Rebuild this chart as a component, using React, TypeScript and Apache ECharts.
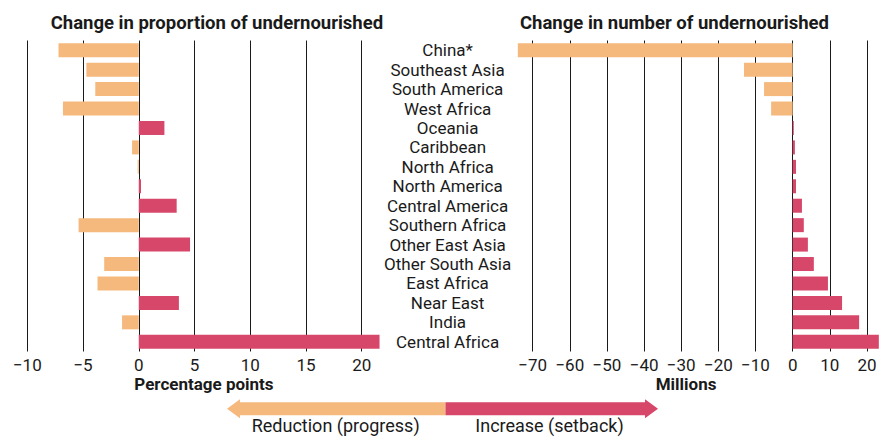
import React, { useEffect, useRef } from 'react';
import * as echarts from 'echarts';

const regions = [
  'China*', 'Southeast Asia', 'South America', 'West Africa', 'Oceania', 'Caribbean',
  'North Africa', 'North America', 'Central America', 'Southern Africa', 'Other East Asia',
  'Other South Asia', 'East Africa', 'Near East', 'India', 'Central Africa',
];
// Change in proportion of undernourished (percentage points)
const proportionChange = [-7.2, -4.7, -3.9, -6.8, 2.3, -0.6, -0.1, 0.2, 3.4, -5.4, 4.6, -3.1, -3.7, 3.6, -1.5, 21.6];
// Change in number of undernourished (millions)
const numberChange = [-74.0, -13.1, -7.7, -5.8, 0.3, 0.6, 0.9, 0.9, 2.5, 3.0, 4.1, 5.7, 9.5, 13.3, 17.9, 23.2];

const titles = ['Change in proportion of undernourished', 'Change in number of undernourished'];
const axisNames = ['Percentage points', 'Millions'];
const legendLabels = ['Reduction (progress)', 'Increase (setback)'];

const ORANGE = '#F5B97D';
const RED = '#D6476A';
const INK = '#1a1a1a';
const FONT = 'Roboto, "Noto Sans", sans-serif';

const signColor = (p: any) => (p.value >= 0 ? RED : ORANGE);
const minusFmt = (v: number) => String(v).replace('-', '\u2212');

export default function App() {
  const ref = useRef<HTMLDivElement>(null);
  useEffect(() => {
    if (!ref.current) return;
    const chart = echarts.init(ref.current, null, { renderer: 'svg' });
    const gridTop = 40.5;
    const gridHeight = 311;
    const xAxisCommon = {
      type: 'value',
      axisLine: { show: false },
      axisTick: { show: false },
      axisLabel: {
        color: INK, fontFamily: FONT, fontSize: 17, margin: 5,
        showMinLabel: true, showMaxLabel: false, formatter: minusFmt,
      },
      splitLine: { show: true, showMaxLine: false, lineStyle: { color: INK, width: 1 } },
    };
    const option: any = {
      animation: false,
      grid: [
        { left: 27.3, top: gridTop, width: 356.7, height: gridHeight },
        { left: 514.1, top: gridTop, width: 367.7, height: gridHeight },
      ],
      xAxis: [
        { ...xAxisCommon, gridIndex: 0, min: -10, max: 22, interval: 5 },
        {
          ...xAxisCommon, gridIndex: 1, min: -75, max: 24, splitNumber: 10,
          axisLabel: { ...xAxisCommon.axisLabel, showMinLabel: false },
          splitLine: { ...xAxisCommon.splitLine, showMinLine: false },
        },
      ],
      yAxis: [
        {
          type: 'category', gridIndex: 0, data: regions, inverse: true,
          axisLine: { show: false }, axisTick: { show: false }, axisLabel: { show: false },
          splitLine: { show: false },
        },
        {
          type: 'category', gridIndex: 1, data: regions, inverse: true, position: 'left',
          axisLine: { show: false }, axisTick: { show: false }, splitLine: { show: false },
          axisLabel: {
            show: true, interval: 0, align: 'center', margin: 66.5, color: INK,
            fontFamily: FONT, fontSize: 17,
          },
        },
      ],
      series: [
        {
          type: 'bar', xAxisIndex: 0, yAxisIndex: 0, data: proportionChange,
          barWidth: 14, itemStyle: { color: signColor },
        },
        {
          type: 'bar', xAxisIndex: 1, yAxisIndex: 1, data: numberChange,
          barWidth: 14, itemStyle: { color: signColor },
        },
      ],
      graphic: [
        {
          type: 'text', x: 50.7, y: 23,
          style: { text: titles[0], fill: INK, font: `bold 18.5px ${FONT}`, align: 'left', verticalAlign: 'middle' },
        },
        {
          type: 'text', x: 520, y: 23,
          style: { text: titles[1], fill: INK, font: `bold 18.5px ${FONT}`, align: 'left', verticalAlign: 'middle' },
        },
        {
          type: 'text', x: 134.3, y: 383.5,
          style: { text: axisNames[0], fill: INK, font: `bold 17px ${FONT}`, align: 'left', verticalAlign: 'middle' },
        },
        {
          type: 'text', x: 655.7, y: 383.5,
          style: { text: axisNames[1], fill: INK, font: `bold 17px ${FONT}`, align: 'left', verticalAlign: 'middle' },
        },
        {
          type: 'polygon',
          shape: { points: [[227, 408.7], [240, 399.3], [240, 402.3], [445.5, 402.3], [445.5, 415.3], [240, 415.3], [240, 418.3]] },
          style: { fill: ORANGE },
        },
        {
          type: 'polygon',
          shape: { points: [[445.5, 402.3], [645, 402.3], [645, 399.3], [658, 408.7], [645, 418.3], [645, 415.3], [445.5, 415.3]] },
          style: { fill: RED },
        },
        {
          type: 'text', x: 335.7, y: 425.5,
          style: { text: legendLabels[0], fill: INK, font: `18px ${FONT}`, align: 'center', verticalAlign: 'middle' },
        },
        {
          type: 'text', x: 549.5, y: 425.5,
          style: { text: legendLabels[1], fill: INK, font: `18px ${FONT}`, align: 'center', verticalAlign: 'middle' },
        },
      ],
    };
    chart.setOption(option);
    return () => chart.dispose();
  }, []);
  return (
    <div
      ref={ref}
      style={{ position: 'fixed', left: 0, top: 0, width: 882, height: 439, background: '#fff' }}
    />
  );
}
